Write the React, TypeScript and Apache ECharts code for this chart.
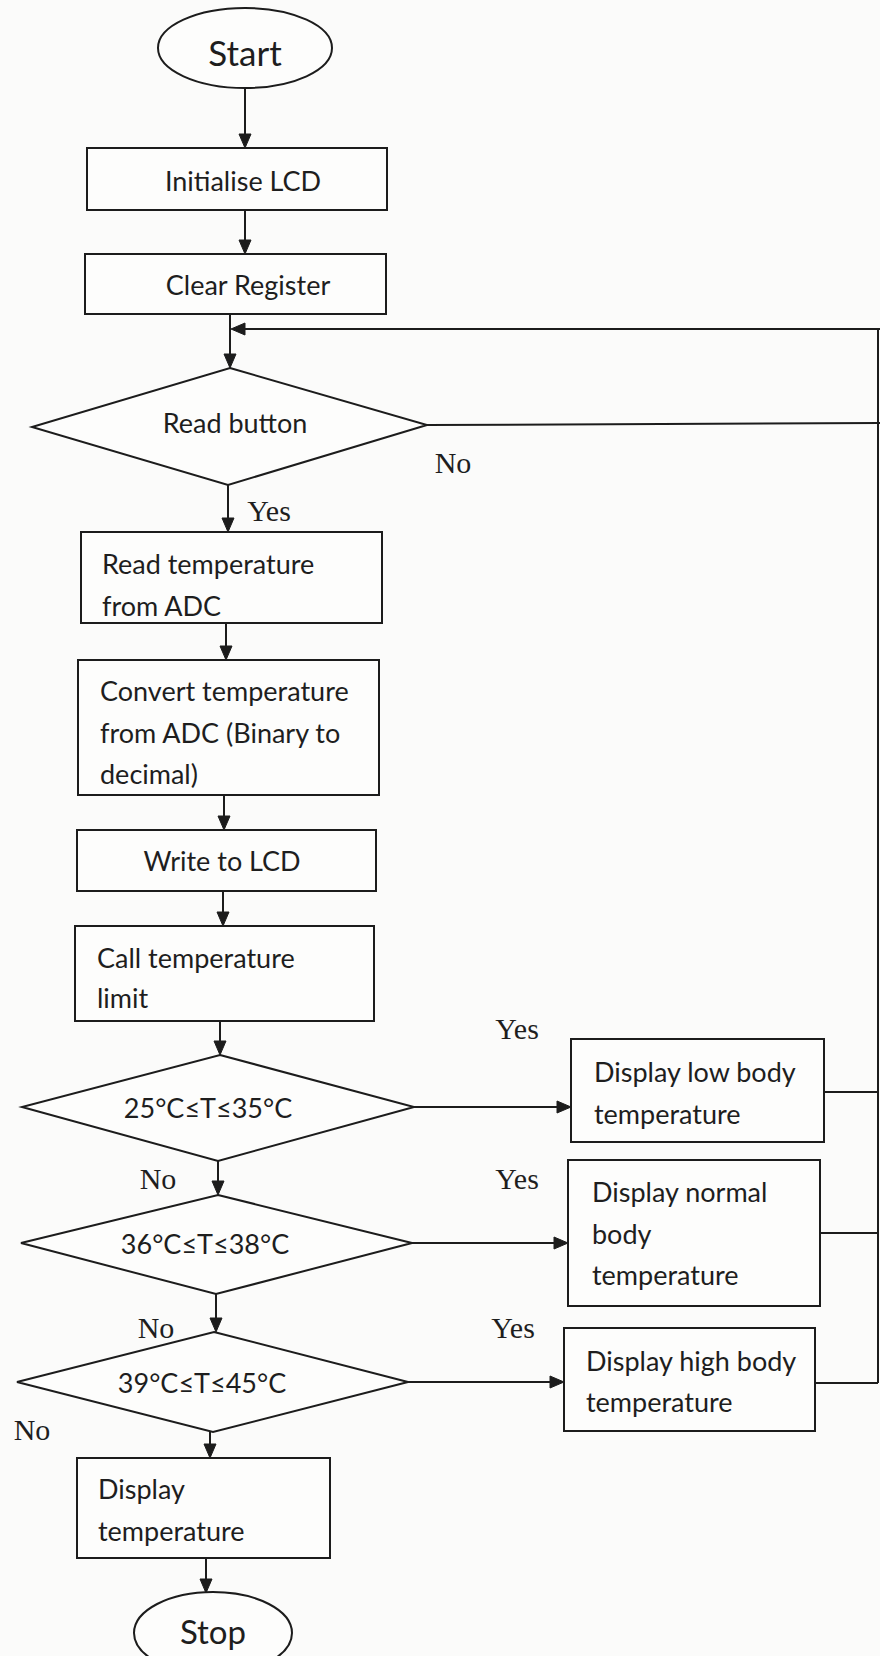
import React, { useEffect, useRef } from "react";
import * as echarts from "echarts";

// ---- Flowchart content (texts) ----
const terminalLabels = ["Start", "Stop"];
const processLabels: string[][] = [
  ["Initialise LCD"],
  ["Clear Register"],
  ["Read temperature", "from ADC"],
  ["Convert temperature", "from ADC (Binary to", "decimal)"],
  ["Write to LCD"],
  ["Call temperature", "limit"],
  ["Display", "temperature"],
];
const decisionLabels = ["Read button", "25°C≤T≤35°C", "36°C≤T≤38°C", "39°C≤T≤45°C"];
const outcomeLabels: string[][] = [
  ["Display low body", "temperature"],
  ["Display normal", "body", "temperature"],
  ["Display high body", "temperature"],
];
const branchLabels = ["Yes", "No"];

const W = 880;
const H = 1656;
const INK = "#1c1c1c";
const LW = 2;
const SANS = "Lato, 'Open Sans', sans-serif";
const SERIF = "'Liberation Serif', 'DejaVu Serif', serif";

function buildGraphics() {
  const els: any[] = [];
  const line = (x1: number, y1: number, x2: number, y2: number) =>
    els.push({ type: "line", shape: { x1, y1, x2, y2 }, style: { stroke: INK, lineWidth: LW } });
  const head = (pts: number[][]) =>
    els.push({ type: "polygon", shape: { points: pts }, style: { fill: INK, stroke: INK, lineWidth: 1 } });
  const arrowDown = (x: number, y1: number, y2: number) => {
    line(x, y1, x, y2 - 10);
    head([[x - 6, y2 - 14], [x + 6, y2 - 14], [x, y2]]);
  };
  const arrowRight = (x1: number, x2: number, y: number) => {
    line(x1, y, x2 - 10, y);
    head([[x2 - 14, y - 6], [x2 - 14, y + 6], [x2, y]]);
  };
  const arrowLeft = (x1: number, x2: number, y: number) => {
    line(x1, y, x2 + 10, y);
    head([[x2 + 14, y - 6], [x2 + 14, y + 6], [x2, y]]);
  };
  const box = (x: number, y: number, w: number, h: number) =>
    els.push({ type: "rect", shape: { x, y, width: w, height: h }, style: { fill: "#fdfdfc", stroke: INK, lineWidth: LW } });
  const diamond = (t: number[], r: number[], b: number[], l: number[]) =>
    els.push({ type: "polygon", shape: { points: [t, r, b, l] }, style: { fill: "#fdfdfc", stroke: INK, lineWidth: LW } });
  const ellipse = (cx: number, cy: number, rx: number, ry: number) =>
    els.push({ type: "ellipse", shape: { cx, cy, rx, ry }, style: { fill: "#fdfdfc", stroke: INK, lineWidth: LW } });
  const text = (s: string, x: number, y: number, opts: any = {}) =>
    els.push({
      type: "text",
      x,
      y,
      style: {
        text: s,
        fill: opts.fill || "#1e1e1e",
        font: `${opts.size || 27}px ${opts.family || SANS}`,
        align: opts.align || "center",
        verticalAlign: "middle",
      },
    });
  const lines = (arr: string[], x: number, ys: number[], size = 27) =>
    arr.forEach((s, i) => text(s, x, ys[i], { align: "left", size }));

  // Start
  ellipse(245, 48, 87, 40);
  text(terminalLabels[0], 245, 52, { size: 35 });
  arrowDown(245, 88, 148);

  // Initialise LCD
  box(87, 148, 300, 62);
  text(processLabels[0][0], 243, 180);
  arrowDown(245, 210, 254);

  // Clear Register
  box(85, 254, 301, 60);
  text(processLabels[1][0], 248, 284);
  arrowDown(230, 314, 368);

  // Loop return line
  arrowLeft(880, 231, 329);
  line(878, 329, 878, 1383);

  // Read button decision
  diamond([230, 368], [427, 425], [228, 485], [32, 427]);
  text(decisionLabels[0], 235, 422);
  line(427, 425, 880, 423);
  text(branchLabels[1], 453, 462, { family: SERIF, size: 30 });
  text(branchLabels[0], 269, 510, { family: SERIF, size: 30 });
  arrowDown(228, 485, 532);

  // Read temperature
  box(81, 532, 301, 91);
  lines(processLabels[2], 102, [563, 605]);
  arrowDown(226, 623, 660);

  // Convert
  box(78, 660, 301, 135);
  lines(processLabels[3], 100, [690, 732, 773]);
  arrowDown(224, 795, 830);

  // Write to LCD
  box(77, 830, 299, 61);
  text(processLabels[4][0], 222, 860);
  arrowDown(223, 891, 926);

  // Call temperature limit
  box(75, 926, 299, 95);
  lines(processLabels[5], 97, [957, 997]);
  arrowDown(220, 1021, 1055);

  // Decision 1
  diamond([220, 1055], [414, 1107], [218, 1161], [22, 1107]);
  text(decisionLabels[1], 208, 1107);
  arrowRight(414, 571, 1107);
  text(branchLabels[0], 517, 1028, { family: SERIF, size: 30 });
  box(571, 1039, 253, 103);
  lines(outcomeLabels[0], 594, [1071, 1113]);
  line(824, 1092, 878, 1092);
  text(branchLabels[1], 158, 1178, { family: SERIF, size: 30 });
  arrowDown(218, 1161, 1195);

  // Decision 2
  diamond([218, 1195], [412, 1243], [216, 1294], [21, 1243]);
  text(decisionLabels[2], 205, 1243);
  arrowRight(412, 568, 1243);
  text(branchLabels[0], 517, 1178, { family: SERIF, size: 30 });
  box(568, 1160, 252, 146);
  lines(outcomeLabels[1], 592, [1191, 1233, 1274]);
  line(820, 1233, 878, 1233);
  text(branchLabels[1], 156, 1327, { family: SERIF, size: 30 });
  arrowDown(216, 1294, 1332);

  // Decision 3
  diamond([214, 1332], [408, 1382], [213, 1432], [17, 1382]);
  text(decisionLabels[3], 202, 1382);
  arrowRight(408, 564, 1382);
  text(branchLabels[0], 513, 1327, { family: SERIF, size: 30 });
  box(564, 1328, 251, 103);
  lines(outcomeLabels[2], 586, [1360, 1401]);
  line(815, 1383, 878, 1383);
  text(branchLabels[1], 32, 1429, { family: SERIF, size: 30 });
  arrowDown(210, 1432, 1458);

  // Display temperature
  box(77, 1458, 253, 100);
  lines(processLabels[6], 98, [1488, 1530]);
  arrowDown(206, 1558, 1593);

  // Stop
  ellipse(213, 1633, 79, 41);
  text(terminalLabels[1], 213, 1631, { size: 33 });

  return els;
}

export default function App() {
  const ref = useRef<HTMLDivElement>(null);
  useEffect(() => {
    if (!ref.current) return;
    const chart = echarts.init(ref.current, null, { renderer: "svg", width: W, height: H });
    chart.setOption({
      animation: false,
      backgroundColor: "#fbfbfa",
      graphic: { elements: buildGraphics() },
    });
    return () => chart.dispose();
  }, []);
  return (
    <div
      ref={ref}
      style={{ position: "absolute", left: 0, top: 0, width: W, height: H }}
    />
  );
}
